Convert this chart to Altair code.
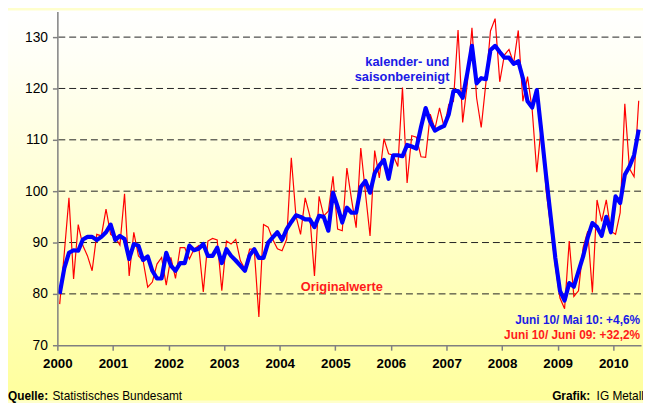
import altair as alt
import pandas as pd

# Monthly index values Jan 2000 .. Jun 2010
blue = [80.0, 85.0, 88.0, 88.5, 88.4, 90.6, 91.1, 91.1, 90.5, 91.1, 92.0, 93.5,
        90.5, 91.3, 90.7, 86.8, 89.7, 89.4, 86.6, 87.3, 84.5, 83.0, 83.0, 88.0,
        85.5, 84.5, 86.0, 86.0, 89.4, 88.5, 88.8, 89.7, 87.4, 87.4, 89.0, 86.0,
        88.7, 87.4, 86.5, 85.5, 84.5, 87.5, 88.7, 87.0, 87.0, 90.0, 91.0, 92.0,
        90.5, 92.6, 94.0, 95.3, 95.0, 94.5, 94.5, 93.0, 95.2, 95.0, 92.3, 99.7,
        97.0, 93.9, 96.8, 95.8, 95.8, 100.8, 102.0, 99.7, 103.5, 105.0, 106.1, 102.4,
        107.0, 107.0, 106.8, 109.0, 108.7, 108.3, 112.5, 116.2, 113.5, 111.8, 112.3, 112.7,
        115.0, 119.5, 119.5, 118.2, 123.0, 128.3, 121.0, 122.0, 121.8, 127.5, 128.3, 127.1,
        126.0, 126.0, 124.8, 125.3, 122.0, 117.5, 116.3, 119.7, 111.5, 103.0, 95.0, 87.0,
        80.6, 78.7, 82.1, 81.4, 84.4, 87.3, 91.0, 93.8, 93.0, 91.3, 95.0, 92.0,
        99.0, 97.7, 103.2, 104.8, 107.0, 112.0]

red = [78.0, 88.0, 98.7, 82.9, 93.5, 89.4, 87.4, 84.5, 91.6, 91.3, 96.5, 91.6,
       91.0, 89.5, 99.5, 83.5, 92.0, 87.4, 86.5, 81.3, 82.3, 85.8, 87.1, 81.7,
       87.1, 83.0, 89.0, 89.0, 86.8, 88.7, 89.4, 80.4, 90.3, 90.8, 90.5, 80.6,
       90.3, 89.7, 90.6, 86.5, 84.8, 88.7, 88.7, 75.5, 93.5, 93.0, 90.6, 88.8,
       88.4, 90.6, 106.5, 95.2, 91.6, 98.7, 95.2, 83.5, 99.0, 95.2, 96.1, 102.9,
       92.6, 92.3, 104.5, 98.4, 92.9, 108.4, 99.7, 91.3, 107.9, 102.6, 110.2, 107.3,
       107.0, 104.8, 120.2, 101.6, 110.8, 110.5, 106.7, 106.6, 115.0, 112.1, 116.2, 112.4,
       116.9, 117.5, 131.4, 113.4, 121.0, 131.8, 118.2, 112.4, 121.0, 131.2, 133.6, 121.3,
       126.5, 127.6, 124.9, 131.3, 117.5, 122.3, 115.9, 103.7, 113.0, 100.2, 93.0, 85.4,
       79.2, 77.1, 90.3, 79.5, 80.6, 89.0, 92.2, 80.3, 98.3, 94.1, 98.3, 92.2,
       91.6, 95.8, 117.0, 104.4, 102.8, 117.6]

year_ticks = list(range(2000, 2011))
y_ticks = [70, 80, 90, 100, 110, 120, 130]
grid_values = [80, 90, 100, 110, 120, 130]

t = [2000 + (i + 0.5) / 12 for i in range(len(blue))]
df = pd.DataFrame({"t": t, "blue": blue, "red": red})

FONT = "Liberation Sans"
W, H = 591, 338
PAD = {"left": 50, "top": 1, "right": 2, "bottom": 56}

xscale = alt.Scale(domain=[2000, 2010.5], nice=False, zero=False)
yscale = alt.Scale(domain=[70, 135], nice=False, zero=False)

xaxis = alt.Axis(values=year_ticks, format="d", title=None, grid=False,
                 labelFont=FONT, labelFontWeight="bold", labelFontSize=13.5,
                 labelColor="#000000", tickSize=5, tickColor="#808080", tickWidth=1.5,
                 domainColor="#808080", domainWidth=1.5, labelPadding=7, zindex=1,
                 labelFlush=False)
yaxis = alt.Axis(values=y_ticks, title=None, grid=False, labelFont=FONT,
                 labelFontSize=14, labelColor="#000000", tickSize=5,
                 tickColor="#808080", tickWidth=1.5, domainColor="#808080",
                 domainWidth=1.5, labelPadding=5, zindex=1)

one = pd.DataFrame({"a": [0]})

bg = alt.Chart(one).mark_rect(
    fill=alt.Gradient(
        gradient="linear",
        stops=[alt.GradientStop(color="#FFFFFF", offset=0),
               alt.GradientStop(color="#FFFFF6", offset=0.12),
               alt.GradientStop(color="#FFFF9C", offset=1)],
        x1=0, x2=0, y1=0, y2=1),
    strokeWidth=0,
).encode(x=alt.value(-PAD["left"]), x2=alt.value(W + PAD["right"]),
         y=alt.value(-PAD["top"]), y2=alt.value(H + PAD["bottom"]))

grid = alt.Chart(pd.DataFrame({"g": grid_values})).mark_rule(
    color="#222222", strokeWidth=1, strokeDash=[7, 4]
).encode(y=alt.Y("g:Q", scale=yscale, axis=yaxis))

red_line = alt.Chart(df).mark_line(color="#FF0000", strokeWidth=1.2).encode(
    x=alt.X("t:Q", scale=xscale, axis=xaxis),
    y=alt.Y("red:Q", scale=yscale, axis=yaxis))

blue_line = alt.Chart(df).mark_line(color="#0000FF", strokeWidth=4.2,
                                    strokeJoin="round").encode(
    x=alt.X("t:Q", scale=xscale, axis=xaxis),
    y=alt.Y("blue:Q", scale=yscale, axis=yaxis))


def txt(s, x, y, color, size=13, weight="bold", align="left"):
    return alt.Chart(one).mark_text(
        text=s, font=FONT, fontSize=size, fontWeight=weight, color=color,
        align=align, baseline="middle"
    ).encode(x=alt.value(x), y=alt.value(y))


texts = [
    txt("kalender- und", 397, 51, "#1A1AE6", 13, align="right"),
    txt("saisonbereinigt", 397, 66, "#1A1AE6", 13, align="right"),
    txt("Originalwerte", 288, 279, "#FF1A1A", 13, align="center"),
    txt("Juni 10/ Mai 10: +4,6%", 590, 312, "#1A1AE6", 12, align="right"),
    txt("Juni 10/ Juni 09: +32,2%", 590, 328, "#FF1A1A", 12, align="right"),
    txt("Quelle:", -50, 389, "#000000", 12),
    txt("Statistisches Bundesamt", -5, 389, "#000000", 12, weight="normal"),
    txt("Grafik:", 501, 389, "#000000", 12),
    txt("IG Metall", 546, 389, "#000000", 12, weight="normal"),
]

chart = alt.layer(bg, grid, red_line, blue_line, *texts).properties(
    width=W, height=H, autosize=alt.AutoSizeParams(type="none"), padding=PAD,
    background="#FFFFCC"
).configure_view(stroke=None)

chart.save("out.html", embed_options={"renderer": "svg", "actions": False})
